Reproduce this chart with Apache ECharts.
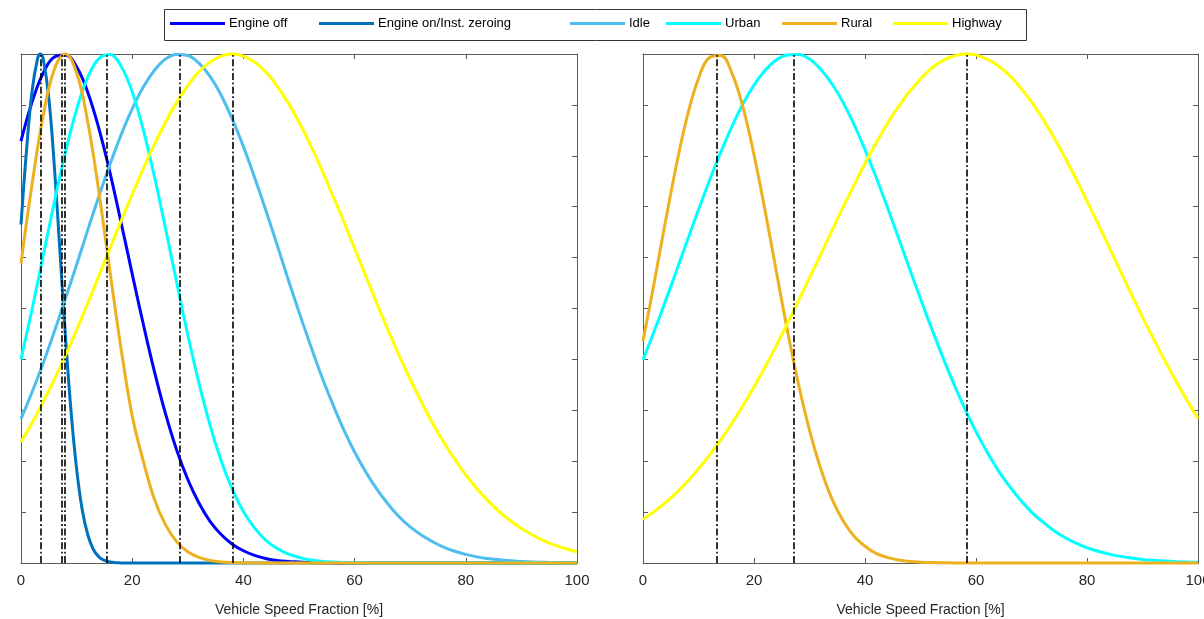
<!DOCTYPE html>
<html>
<head>
<meta charset="utf-8">
<script src="https://cdn.jsdelivr.net/npm/echarts@6/dist/echarts.min.js"></script>
<style>
html,body{margin:0;padding:0;background:#fff;}
#chart{width:1204px;height:619px;}
</style>
</head>
<body>
<div id="chart"></div>
<script>
// ---------------- DATA ----------------
const seriesNames = ['Engine off', 'Engine on/Inst. zeroing', 'Idle', 'Urban', 'Rural', 'Highway'];

const speed = [0,2,4,6,8,10,12,14,16,18,20,22,24,26,28,30,32,34,36,38,40,42,44,46,48,50,
  52,54,56,58,60,62,64,66,68,70,72,74,76,78,80,82,84,86,88,90,92,94,96,98,100];
const speedFine = [0,1,2,3,3.5,4,5,6,7,8,9,10,11,12,13,14,15,16,17,18,19,20,30,40,50,60,70,80,90,100];

// left panel
const engineOff = [
  0.829,0.906,0.963,0.994,0.998,0.975,0.925,0.854,0.767,0.669,
  0.568,0.469,0.376,0.293,0.222,0.164,0.118,0.082,0.056,0.037,
  0.024,0.015,0.009,0.005,0.003,0.002,0.001,0.0005,0.0002,0,
  0,0,0,0,0,0,0,0,0,0,
  0,0,0,0,0,0,0,0,0,0,
  0];
const engineOn = [
  0.665,0.812,0.928,0.992,1.000,0.990,0.914,0.779,0.613,0.445,0.298,
  0.185,0.105,0.056,0.027,0.012,0.005,0.002,0.0007,0.0002,0,
  0,0,0,0,0,0,0,0,0];
const idle = [
  0.283,0.336,0.393,0.455,0.520,0.586,0.654,0.720,0.783,0.841,
  0.892,0.935,0.968,0.990,0.999,0.997,0.982,0.956,0.919,0.872,
  0.818,0.758,0.694,0.627,0.559,0.493,0.430,0.369,0.314,0.263,
  0.218,0.179,0.145,0.116,0.091,0.071,0.055,0.042,0.031,0.023,
  0.017,0.012,0.0088,0.0062,0.0043,0.003,0.002,0.0014,0.0009,0.0006,
  0.0004];
const urbanLeft = [
  0.400,0.499,0.604,0.709,0.807,0.891,0.954,0.991,0.999,0.976,
  0.926,0.851,0.759,0.657,0.551,0.448,0.354,0.271,0.201,0.145,
  0.101,0.069,0.045,0.029,0.018,0.011,0.006,0.0035,0.0019,0.001,
  0.0005,0.0003,0,0,0,0,0,0,0,0,
  0,0,0,0,0,0,0,0,0,0,
  0];
const ruralLeft = [
  0.589,0.745,0.879,0.970,1.000,0.963,0.867,0.730,0.573,0.421,
  0.289,0.200,0.125,0.075,0.042,0.022,0.011,0.005,0.002,0.001,
  0.0004,0.0002,0,0,0,0,0,0,0,0,
  0,0,0,0,0,0,0,0,0,0,
  0,0,0,0,0,0,0,0,0,0,
  0];
const highwayLeft = [
  0.238,0.275,0.317,0.361,0.408,0.458,0.510,0.564,0.618,0.672,
  0.724,0.775,0.823,0.866,0.905,0.938,0.965,0.984,0.996,1.000,
  0.996,0.984,0.965,0.938,0.905,0.866,0.823,0.775,0.724,0.672,
  0.618,0.564,0.510,0.458,0.408,0.361,0.317,0.275,0.238,0.204,
  0.173,0.146,0.122,0.101,0.083,0.068,0.055,0.044,0.035,0.028,
  0.022];
const peaksLeft = [3.5, 7.3, 7.9, 15.5, 28.6, 38.0];

// right panel
const urbanRight = [
  0.399,0.455,0.513,0.573,0.634,0.694,0.752,0.807,0.857,0.902,
  0.939,0.968,0.988,0.998,0.999,0.990,0.970,0.942,0.906,0.862,
  0.812,0.758,0.700,0.640,0.579,0.519,0.461,0.405,0.352,0.303,
  0.258,0.218,0.182,0.151,0.124,0.100,0.081,0.064,0.050,0.039,
  0.030,0.023,0.0175,0.013,0.0097,0.0071,0.0052,0.0037,0.0026,0.0019,
  0.0013];
const ruralRight = [
  0.436,0.550,0.668,0.781,0.879,0.952,0.993,0.997,0.963,0.896,
  0.802,0.692,0.574,0.458,0.352,0.261,0.186,0.127,0.084,0.053,
  0.033,0.019,0.011,0.006,0.003,0.0016,0.0008,0.0004,0.0002,0,
  0,0,0,0,0,0,0,0,0,0,
  0,0,0,0,0,0,0,0,0,0,
  0];
const highwayRight = [
  0.086,0.101,0.118,0.138,0.160,0.185,0.212,0.242,0.274,0.309,
  0.346,0.385,0.427,0.470,0.515,0.560,0.606,0.652,0.698,0.742,
  0.785,0.825,0.863,0.896,0.926,0.951,0.972,0.987,0.996,1.000,
  0.998,0.990,0.977,0.958,0.934,0.906,0.873,0.837,0.797,0.755,
  0.711,0.666,0.620,0.574,0.528,0.483,0.440,0.398,0.358,0.320,
  0.284];
const peaksRight = [13.2, 27.1, 58.3];

// ---------------- STYLE / LAYOUT ----------------
const colors = {
  'Engine off': '#0000FF',
  'Engine on/Inst. zeroing': '#0072BD',
  'Idle': '#4DBEEE',
  'Urban': '#00FFFF',
  'Rural': '#EDB120',
  'Highway': '#FFFF00'
};
const FONT = 'Liberation Sans, Arial, Helvetica, sans-serif';
const AXC = '#5a5a5a';
const TXC = '#262626';
const grids = [
  {left: 21, top: 54, width: 556, height: 509, outerBoundsMode: 'none', containLabel: false},
  {left: 643, top: 54, width: 555, height: 509, outerBoundsMode: 'none', containLabel: false}
];
const legendLeft = [170, 319, 570, 666, 782, 893];

function pairs(xs, ys) { return ys.map((v, i) => [xs[i], v]); }

const vlineStyle = {color: '#000', width: 1.6, type: [7, 2.5, 1.8, 2.5]};
function markLines(peaks) {
  return {
    silent: true, symbol: ['none', 'none'], label: {show: false},
    lineStyle: vlineStyle, emphasis: {disabled: true},
    data: peaks.map(p => ({xAxis: p}))
  };
}

function mkSeries(name, xs, ys, gi, extra) {
  const s = {
    name: name, type: 'line', xAxisIndex: gi * 2, yAxisIndex: gi * 2,
    data: pairs(xs, ys), showSymbol: false, symbol: 'none', smooth: 0.4,
    clip: false,
    lineStyle: {color: colors[name], width: 3},
    itemStyle: {color: colors[name]},
    emphasis: {disabled: true}
  };
  return Object.assign(s, extra || {});
}

function axisBase() {
  return {
    axisLine: {show: true, onZero: false, lineStyle: {color: AXC, width: 1}},
    axisTick: {show: true, inside: true, length: 5, lineStyle: {color: AXC}},
    splitLine: {show: false}
  };
}

const xAxes = [], yAxes = [];
[0, 1].forEach(gi => {
  xAxes.push(Object.assign(axisBase(), {
    type: 'value', gridIndex: gi, min: 0, max: 100, interval: 20, position: 'bottom',
    axisLabel: {show: true, color: TXC, fontSize: 15, fontFamily: FONT, margin: 10},
    name: 'Vehicle Speed Fraction [%]', nameLocation: 'middle', nameGap: 40,
    nameTextStyle: {color: TXC, fontSize: 14, fontFamily: FONT}
  }));
  xAxes.push(Object.assign(axisBase(), {
    type: 'value', gridIndex: gi, min: 0, max: 100, interval: 20, position: 'top',
    axisLabel: {show: false}
  }));
  yAxes.push(Object.assign(axisBase(), {
    type: 'value', gridIndex: gi, min: 0, max: 1, interval: 0.1, position: 'left',
    axisLabel: {show: false}
  }));
  yAxes.push(Object.assign(axisBase(), {
    type: 'value', gridIndex: gi, min: 0, max: 1, interval: 0.1, position: 'right',
    axisLabel: {show: false}
  }));
});

const series = [
  mkSeries('Engine off', speed, engineOff, 0),
  mkSeries('Engine on/Inst. zeroing', speedFine, engineOn, 0),
  mkSeries('Idle', speed, idle, 0),
  mkSeries('Urban', speed, urbanLeft, 0),
  mkSeries('Rural', speed, ruralLeft, 0),
  mkSeries('Highway', speed, highwayLeft, 0, {markLine: markLines(peaksLeft)}),
  mkSeries('Urban', speed, urbanRight, 1),
  mkSeries('Rural', speed, ruralRight, 1),
  mkSeries('Highway', speed, highwayRight, 1, {markLine: markLines(peaksRight)})
];

const legends = seriesNames.map((n, i) => ({
  data: [n], left: legendLeft[i], top: 17, padding: 0, orient: 'horizontal',
  icon: 'rect', itemWidth: 55, itemHeight: 3, selectedMode: false,
  textStyle: {color: '#000', fontSize: 13, fontFamily: FONT, padding: [0, 0, 0, -1]}
}));

const option = {
  animation: false,
  backgroundColor: '#fff',
  grid: grids,
  xAxis: xAxes,
  yAxis: yAxes,
  legend: legends,
  graphic: [{
    type: 'rect', shape: {x: 164.5, y: 9.5, width: 862, height: 31},
    style: {fill: '#fff', stroke: '#333', lineWidth: 1}, z: -1, silent: true
  }],
  series: series
};

const chart = echarts.init(document.getElementById('chart'), null, {renderer: 'canvas'});
chart.setOption(option);
</script>
</body>
</html>
